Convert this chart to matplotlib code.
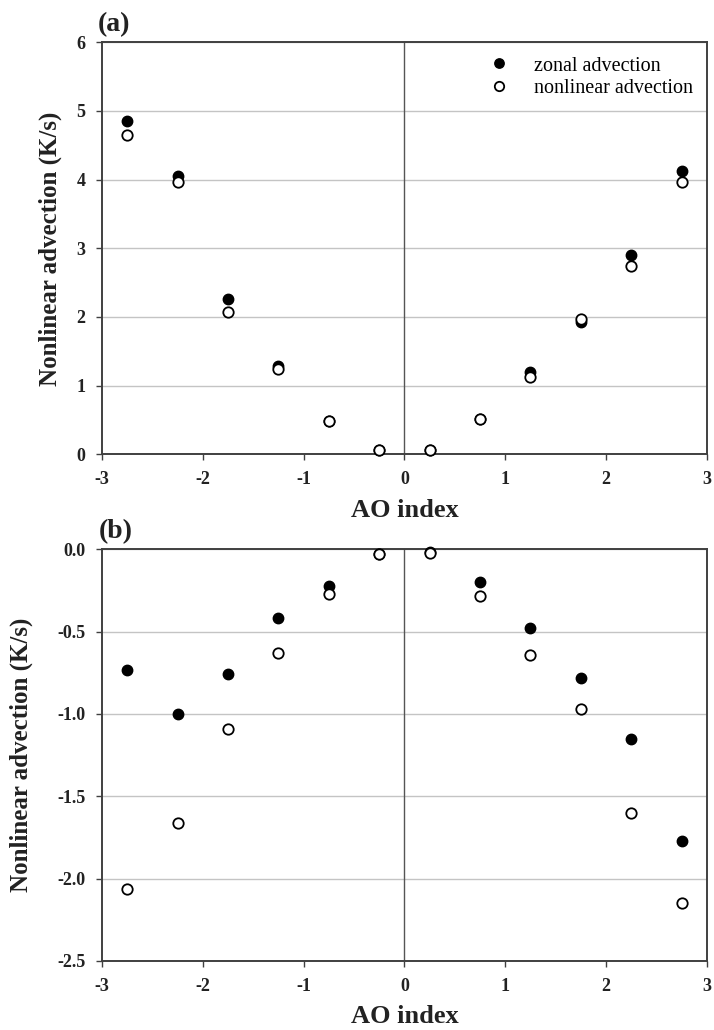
import matplotlib
matplotlib.use("Agg")
import matplotlib.pyplot as plt

plt.rcParams["font.family"] = ["Liberation Serif", "DejaVu Serif"]
plt.rcParams["axes.unicode_minus"] = False

# AO index bins (centres)
ao_index = [-2.75, -2.25, -1.75, -1.25, -0.75, -0.25, 0.25, 0.75, 1.25, 1.75, 2.25, 2.75]

# (a) positive-phase advection terms
zonal_a = [4.86, 4.06, 2.26, 1.28, 0.49, 0.06, 0.06, 0.52, 1.20, 1.92, 2.90, 4.12]
nonlin_a = [4.65, 3.96, 2.07, 1.24, 0.49, 0.06, 0.06, 0.52, 1.13, 1.97, 2.74, 3.96]

# (b) negative-phase advection terms
zonal_b = [-0.73, -1.00, -0.76, -0.42, -0.22, -0.03, -0.015, -0.20, -0.48, -0.78, -1.15, -1.77]
nonlin_b = [-2.065, -1.66, -1.09, -0.63, -0.27, -0.03, -0.02, -0.285, -0.64, -0.97, -1.60, -2.15]

x_ticks = [-3, -2, -1, 0, 1, 2, 3]
y_ticks_a = [0, 1, 2, 3, 4, 5, 6]
y_ticks_b = [0.0, -0.5, -1.0, -1.5, -2.0, -2.5]

spine_col = "#404040"
grid_col = "#c4c4c4"
text_col = "#222222"

fig = plt.figure(figsize=(7.14, 10.30), dpi=100)
ax_a = fig.add_axes([0.1429, 0.5589, 0.847, 0.4])
ax_b = fig.add_axes([0.1429, 0.0670, 0.847, 0.3997])


def style_axes(ax, yticks, ylim, yfmt, ylabel_x, xlabel_y):
    ax.set_xlim(-3, 3)
    ax.set_ylim(*ylim)
    ax.set_xticks(x_ticks)
    ax.set_xticklabels([str(t) for t in x_ticks])
    ax.set_yticks(yticks)
    ax.set_yticklabels([yfmt.format(t) for t in yticks])
    for lab in ax.get_xticklabels() + ax.get_yticklabels():
        lab.set_fontweight("bold")
        lab.set_fontsize(13)
        lab.set_color(text_col)
    ax.tick_params(axis="x", direction="out", length=4, width=1,
                   color=spine_col, pad=8)
    ax.tick_params(axis="y", direction="out", length=4, width=1,
                   color=spine_col, pad=8)
    for sp in ax.spines.values():
        sp.set_color(spine_col)
        sp.set_linewidth(1.4)
    ax.yaxis.grid(True, color=grid_col, linewidth=1.0)
    ax.set_axisbelow(True)
    ax.axvline(0, color="#555555", linewidth=1.0, zorder=1)
    ax.set_xlabel("AO index", fontsize=19, fontweight="bold", color=text_col)
    ax.set_ylabel("Nonlinear advection (K/s)", fontsize=18, fontweight="bold",
                  color=text_col)
    ax.yaxis.set_label_coords(ylabel_x, 0.5)
    ax.xaxis.set_label_coords(0.5, xlabel_y)


def draw_points(ax, zonal, nonlin):
    ax.plot(ao_index, zonal, linestyle="none", marker="o", markersize=7.5,
            markerfacecolor="black", markeredgecolor="black",
            label="zonal advection", zorder=3, clip_on=False)
    ax.plot(ao_index, nonlin, linestyle="none", marker="o", markersize=7.5,
            markerfacecolor="white", markeredgecolor="black",
            markeredgewidth=1.3, label="nonlinear advection", zorder=4,
            clip_on=False)


draw_points(ax_a, zonal_a, nonlin_a)
style_axes(ax_a, y_ticks_a, (0, 6), "{:d}", -0.066, -0.108)
ax_a.legend(loc="upper right", frameon=False, fontsize=14.5, handletextpad=1.1,
            labelspacing=0.15, borderaxespad=0.3, markerscale=0.9,
            handlelength=1.2)

draw_points(ax_b, zonal_b, nonlin_b)
style_axes(ax_b, y_ticks_b, (-2.5, 0.0), "{:.1f}", -0.114, -0.106)

ax_a.text(-0.007, 1.012, "(a)", transform=ax_a.transAxes, fontsize=20,
          fontweight="bold", ha="left", va="bottom", color=text_col)
ax_b.text(-0.005, 1.012, "(b)", transform=ax_b.transAxes, fontsize=20,
          fontweight="bold", ha="left", va="bottom", color=text_col)

fig.savefig("out.png", dpi=100)
